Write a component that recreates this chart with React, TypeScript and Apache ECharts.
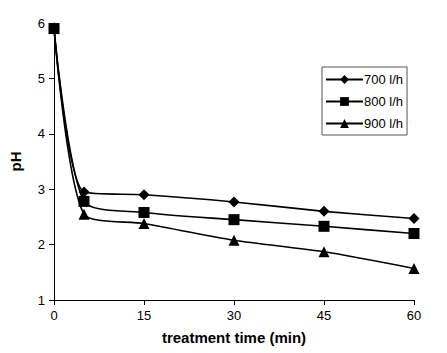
import React, { useEffect, useRef } from "react";
import * as echarts from "echarts";

const times = [0, 5, 15, 30, 45, 60];
const ph700 = [5.9, 2.95, 2.9, 2.77, 2.6, 2.47];
const ph800 = [5.9, 2.78, 2.58, 2.45, 2.33, 2.2];
const ph900 = [5.9, 2.55, 2.38, 2.08, 1.87, 1.57];
const seriesNames = ["700 l/h", "800 l/h", "900 l/h"];
const xTicks = [0, 15, 30, 45, 60];

const FONT = "'Liberation Sans', Arial, sans-serif";

export default function App() {
  const ref = useRef<HTMLDivElement>(null);
  useEffect(() => {
    if (!ref.current) return;
    const chart = echarts.init(ref.current, undefined, { renderer: "svg" });
    const mk = (name: string, vals: number[], symbol: string, size: number) => ({
      name,
      type: "line",
      data: times.map((t, i) => [t, vals[i]]),
      smooth: 0.25,
      symbol,
      symbolSize: size,
      lineStyle: { color: "#000", width: 1.6 },
      itemStyle: { color: "#000" },
      z: 3,
    });
    chart.setOption({
      animation: false,
      backgroundColor: "#fff",
      textStyle: { fontFamily: FONT },
      grid: { left: 47, right: 33, top: 23, bottom: 53 },
      xAxis: {
        type: "value",
        min: 0,
        max: 60,
        interval: 15,
        name: "treatment time (min)",
        nameLocation: "middle",
        nameGap: 30,
        nameTextStyle: { fontFamily: FONT, fontWeight: "bold", fontSize: 15, color: "#000" },
        axisLine: { lineStyle: { color: "#000", width: 1 } },
        axisTick: { show: true, length: 5, lineStyle: { color: "#000" } },
        axisLabel: {
          color: "#000",
          fontSize: 13,
          fontFamily: FONT,
          margin: 9,
          formatter: (v: number) => (xTicks.includes(v) ? String(v) : ""),
        },
        splitLine: { show: false },
      },
      yAxis: {
        type: "value",
        min: 1,
        max: 6,
        interval: 1,
        name: "pH",
        nameLocation: "middle",
        nameGap: 31,
        nameRotate: 90,
        nameTextStyle: { fontFamily: FONT, fontWeight: "bold", fontSize: 15, color: "#000" },
        axisLine: { show: true, lineStyle: { color: "#000", width: 1 } },
        axisTick: { show: true, length: 5, lineStyle: { color: "#000" } },
        axisLabel: { color: "#000", fontSize: 13, fontFamily: FONT, margin: 9 },
        splitLine: { show: false },
      },
      legend: {
        orient: "vertical",
        left: 322,
        top: 67,
        width: 88,
        backgroundColor: "#fff",
        borderColor: "#555",
        borderWidth: 1,
        borderRadius: 0,
        padding: [6, 4, 5, 3],
        itemGap: 9,
        itemWidth: 37,
        itemHeight: 11,
        textStyle: { fontFamily: FONT, fontSize: 13, color: "#000", padding: [0, 0, 0, -4] },
        data: seriesNames,
      },
      series: [
        mk(seriesNames[0], ph700, "diamond", 11),
        mk(seriesNames[1], ph800, "rect", 11),
        mk(seriesNames[2], ph900, "triangle", 11),
      ],
    });
    return () => chart.dispose();
  }, []);
  return (
    <div
      ref={ref}
      style={{ position: "fixed", left: 0, top: 0, width: 447, height: 353 }}
    />
  );
}
